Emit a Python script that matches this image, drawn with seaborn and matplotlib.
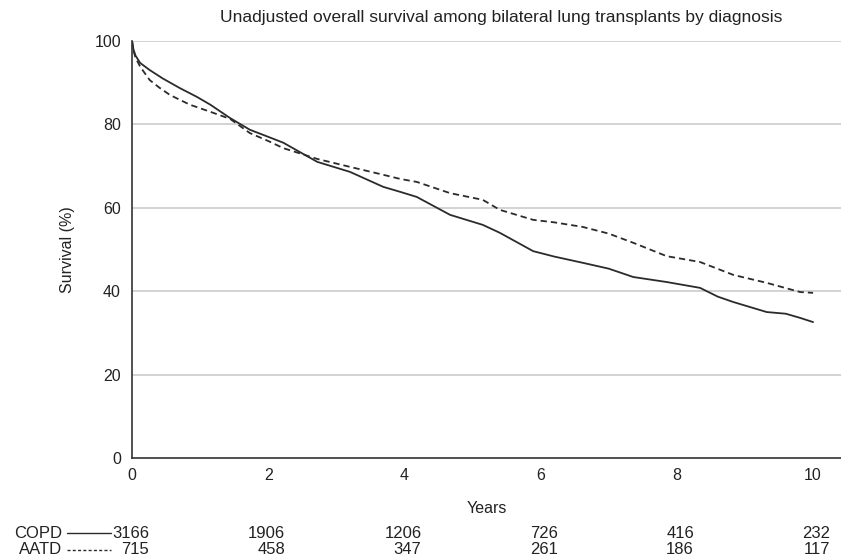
import numpy as np
import pandas as pd
import matplotlib
matplotlib.use("Agg")
import matplotlib.pyplot as plt
from matplotlib.lines import Line2D
from matplotlib.transforms import blended_transform_factory
import seaborn as sns

# Kaplan-Meier style survival estimates (years, % surviving)
copd_years = [0, 0.02, 0.05, 0.12, 0.26, 0.45, 0.70, 0.95, 1.15, 1.44, 1.73, 2.0,
              2.22, 2.72, 3.2, 3.69, 3.94, 4.18, 4.67, 5.15, 5.4, 5.89, 6.2, 6.62,
              7.0, 7.36, 7.85, 8.34, 8.6, 8.83, 9.32, 9.6, 9.81, 10.0]
copd_surv = [100, 98.0, 96.5, 94.7, 93.0, 91.0, 88.7, 86.6, 84.7, 81.5, 78.7, 77.0,
             75.6, 71.0, 68.6, 65.0, 63.8, 62.6, 58.3, 55.9, 54.0, 49.6, 48.3, 46.8,
             45.4, 43.4, 42.2, 40.8, 38.7, 37.4, 35.0, 34.6, 33.6, 32.6]

aatd_years = [0, 0.02, 0.05, 0.12, 0.26, 0.4, 0.56, 0.85, 1.15, 1.44, 1.73, 2.0,
              2.22, 2.72, 3.2, 3.69, 3.94, 4.18, 4.67, 5.15, 5.4, 5.89, 6.2, 6.62,
              7.0, 7.36, 7.85, 8.34, 8.83, 9.32, 9.81, 10.0]
aatd_surv = [100, 97.8, 96.0, 93.8, 90.6, 88.8, 87.0, 84.7, 83.0, 81.3, 77.9, 76.0,
             74.3, 71.7, 69.8, 67.9, 66.9, 66.2, 63.5, 61.9, 59.5, 57.1, 56.5, 55.4,
             53.8, 51.6, 48.4, 47.0, 43.9, 42.0, 39.8, 39.6]

# Numbers at risk
risk_years = [0, 2, 4, 6, 8, 10]
copd_risk = [3166, 1906, 1206, 726, 416, 232]
aatd_risk = [715, 458, 347, 261, 186, 117]

groups = ["COPD", "AATD"]
x_ticks = [0, 2, 4, 6, 8, 10]
y_ticks = [0, 20, 40, 60, 80, 100]

df = pd.concat([
    pd.DataFrame({"Years": copd_years, "Survival": copd_surv, "Diagnosis": "COPD"}),
    pd.DataFrame({"Years": aatd_years, "Survival": aatd_surv, "Diagnosis": "AATD"}),
], ignore_index=True)

sns.set_theme(style="white")
plt.rcParams["font.family"] = ["Liberation Sans", "DejaVu Sans"]

fig = plt.figure(figsize=(8.41, 5.6), dpi=100)
ax = fig.add_axes([0.157, 0.182, 0.843, 0.745])

line_color = "#2b2b2b"
sns.lineplot(data=df, x="Years", y="Survival", hue="Diagnosis", style="Diagnosis",
             palette={"COPD": line_color, "AATD": line_color},
             dashes={"COPD": "", "AATD": (3.5, 2.2)},
             linewidth=1.3, legend=False, ax=ax, estimator=None, sort=False)

ax.set_xlim(0, 10.41)
ax.set_ylim(0, 100)
ax.set_xticks(x_ticks)
ax.set_yticks(y_ticks)
ax.tick_params(axis="both", labelsize=11.5, colors="#222222", length=4, width=1,
               direction="out", pad=3)
ax.tick_params(axis="y", length=5)
for t in y_ticks[1:]:
    ax.axhline(t, color="#c8c8c8", linewidth=1.1, zorder=0)

for side in ["top", "right"]:
    ax.spines[side].set_visible(False)
for side in ["left", "bottom"]:
    ax.spines[side].set_color("#333333")
    ax.spines[side].set_linewidth(1.2)

ax.set_xlabel("Years", fontsize=11.5, color="#222222", labelpad=13)
ax.set_ylabel("Survival (%)", fontsize=11.5, color="#222222", labelpad=14)
fig.text(0.596, 0.968, "Unadjusted overall survival among bilateral lung transplants by diagnosis",
         ha="center", va="center", fontsize=12.5, color="#222222")

# Numbers-at-risk table beneath the axis
trans = blended_transform_factory(ax.transData, fig.transFigure)
row_y = [1 - 533 / 560, 1 - 550 / 560]
for name, counts, yy, dash in zip(groups, [copd_risk, aatd_risk], row_y,
                                   ["-", (0, (2.2, 1.6))]):
    fig.text(62 / 841, yy, name, ha="right", va="center", fontsize=12, color="#222222")
    fig.add_artist(Line2D([67 / 841, 111 / 841], [yy, yy], transform=fig.transFigure,
                          color=line_color, linewidth=1.0, linestyle=dash))
    for xv, n in zip(risk_years, counts):
        ax.text(xv + 0.25, yy, f"{n}", transform=trans, ha="right", va="center",
                fontsize=12, color="#222222", clip_on=False)

fig.savefig("out.png", dpi=100, facecolor="white")
